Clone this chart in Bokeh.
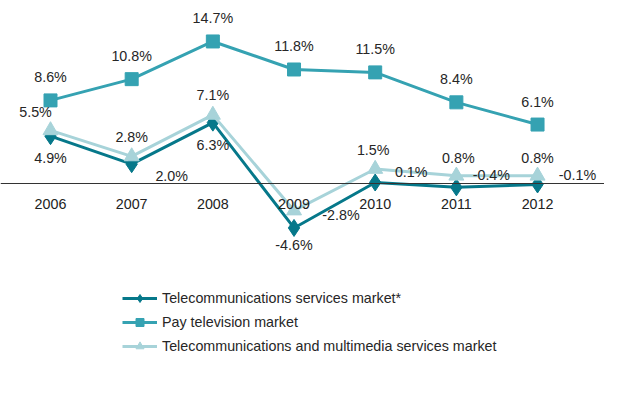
from bokeh.plotting import figure
from bokeh.models import (Range1d, FixedTicker, ColumnDataSource, Legend, LegendItem, LabelSet)
from bokeh.core.properties import value
from bokeh.embed import file_html
from bokeh.resources import INLINE

years = ["2006", "2007", "2008", "2009", "2010", "2011", "2012"]
telecom = [4.9, 2.0, 6.3, -4.6, 0.1, -0.4, -0.1]
paytv = [8.6, 10.8, 14.7, 11.8, 11.5, 8.4, 6.1]
multimedia = [5.5, 2.8, 7.1, -2.8, 1.5, 0.8, 0.8]

names = ["Telecommunications services market*",
         "Pay television market",
         "Telecommunications and multimedia services market"]
colors = ["#06788a", "#35a2b2", "#a7d3d9"]

# label offsets (screen px) for each series
telecom_dx = [0, 40, 0, 0, 36, 35, 40]
telecom_dy = [-22, -12, -22, -17, 11, 12, 9]
paytv_dx = [0, 0, 0, 0, 0, 0, 0]
paytv_dy = [23, 23, 23, 23, 23, 23, 23]
multi_dx = [-15, 0, 0, 47, -2, 2, 0]
multi_dy = [18, 19, 20, -4, 19, 18, 18]

xs = list(range(len(years)))

p = figure(width=604, height=380, output_backend="svg", toolbar_location=None,
           x_range=Range1d(-0.616, 6.825), y_range=Range1d(-20.39, 18.94),
           min_border=0, min_border_left=0, min_border_right=0,
           min_border_top=0, min_border_bottom=0)
p.outline_line_color = None
p.grid.visible = False
p.yaxis.visible = False

ax = p.xaxis[0]
ax.fixed_location = 0
ax.ticker = FixedTicker(ticks=xs)
ax.major_label_overrides = {i: y for i, y in enumerate(years)}
ax.major_tick_line_color = None
ax.minor_tick_line_color = None
ax.axis_line_color = "#333333"
ax.axis_line_width = 1.2
ax.major_label_text_font = "Liberation Sans"
ax.major_label_text_font_size = "14.3px"
ax.major_label_text_color = "#222222"
ax.major_label_standoff = 10

series = [(telecom, telecom_dx, telecom_dy, "diamond", 17),
          (paytv, paytv_dx, paytv_dy, "square", 13),
          (multimedia, multi_dx, multi_dy, "triangle", 15)]

items = []
for (vals, dx, dy, marker, size), name, col in zip(series, names, colors):
    src = ColumnDataSource(dict(x=xs, y=vals, dx=dx, dy=dy,
                                txt=[f"{v:.1f}%" for v in vals]))
    p.line("x", "y", source=src, line_color=col, line_width=3)
    p.scatter("x", "y", source=src, marker=marker, size=size,
              fill_color=col, line_color=col)
    labels = LabelSet(x="x", y="y", text="txt", source=src,
                      x_offset="dx", y_offset="dy",
                      text_align="center", text_baseline="middle",
                      text_font=value("Liberation Sans"), text_font_size="14.3px",
                      text_color="#262626")
    p.add_layout(labels)
    # legend-only renderers, placed outside the visible range
    lr = p.line([-100, -99], [-100, -100], line_color=col, line_width=3)
    sr = p.scatter([-100], [-100], marker=marker, size=9, fill_color=col, line_color=col)
    items.append(LegendItem(label=name, renderers=[lr, sr]))

legend = Legend(items=items, location=(112, 14), orientation="vertical",
                glyph_width=35, glyph_height=20, label_height=20,
                spacing=4, padding=10, label_standoff=5,
                border_line_alpha=0, background_fill_alpha=0,
                label_text_font="Liberation Sans", label_text_font_size="14.3px",
                label_text_color="#262626")
p.add_layout(legend)

open("out.html", "w").write(file_html(p, INLINE))
